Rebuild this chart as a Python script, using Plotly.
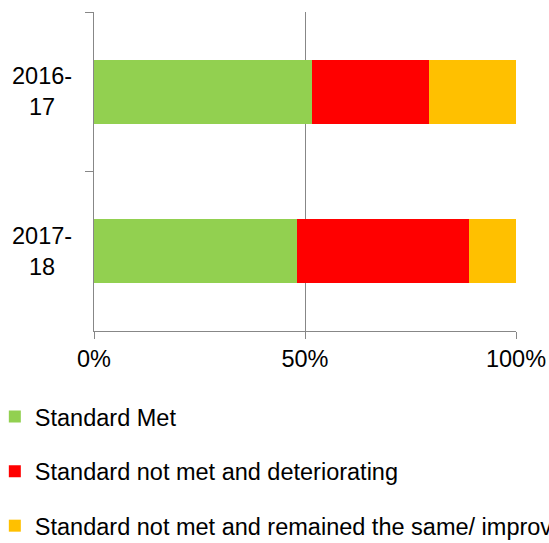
import plotly.graph_objects as go

categories = ["2016-17", "2017-18"]
category_labels = ["2016-<br>17", "2017-<br>18"]
series_names = [
    "Standard Met",
    "Standard not met and deteriorating",
    "Standard not met and remained the same/ improved",
]
met = [0.517, 0.482]
deteriorating = [0.276, 0.407]
same_improved = [0.207, 0.111]
colors = ["#92D050", "#FF0000", "#FFC000"]

FONT = "Liberation Sans, Arial, sans-serif"
FS = 23.5
fig = go.Figure()
for i, (name, vals) in enumerate(zip(series_names, [met, deteriorating, same_improved])):
    fig.add_trace(go.Bar(
        y=categories, x=vals, name=name, orientation="h",
        marker=dict(color=colors[i], line=dict(width=0)),
        legendgroup=f"g{i}",
    ))

for cat, lab in zip(categories, category_labels):
    fig.add_annotation(
        x=-0.124, xref="paper", y=cat, yref="y", text=lab,
        showarrow=False, xanchor="center", yanchor="middle", align="center",
        font=dict(family=FONT, size=FS, color="black"),
    )

axis_gray = "#878787"
fig.update_layout(
    barmode="stack",
    bargap=0.6,
    width=549, height=543,
    margin=dict(l=94, r=33, t=12, b=212, autoexpand=False),
    paper_bgcolor="white", plot_bgcolor="white",
    font=dict(family=FONT, size=FS, color="black"),
    showlegend=True,
    legend=dict(
        x=-0.235, xanchor="left", y=-0.2, yanchor="top",
        orientation="v", traceorder="grouped", tracegroupgap=21,
        font=dict(family=FONT, size=FS, color="black"),
        bgcolor="rgba(0,0,0,0)",
    ),
    xaxis=dict(
        range=[0, 1], tickvals=[0, 0.5, 1], tickformat=".0%",
        showgrid=True, gridcolor=axis_gray, gridwidth=1.3,
        showline=True, linecolor=axis_gray, linewidth=1.3,
        ticks="outside", ticklen=7, tickcolor=axis_gray, tickwidth=1.3,
        zeroline=False, fixedrange=True, ticklabelstandoff=0,
    ),
    yaxis=dict(
        categoryorder="array", categoryarray=categories, autorange="reversed",
        showticklabels=False, tickson="boundaries",
        showline=True, linecolor=axis_gray, linewidth=1.3,
        ticks="outside", ticklen=8, tickcolor=axis_gray, tickwidth=1.3,
        showgrid=False, zeroline=False, fixedrange=True,
    ),
)

fig.write_html("out.html")
